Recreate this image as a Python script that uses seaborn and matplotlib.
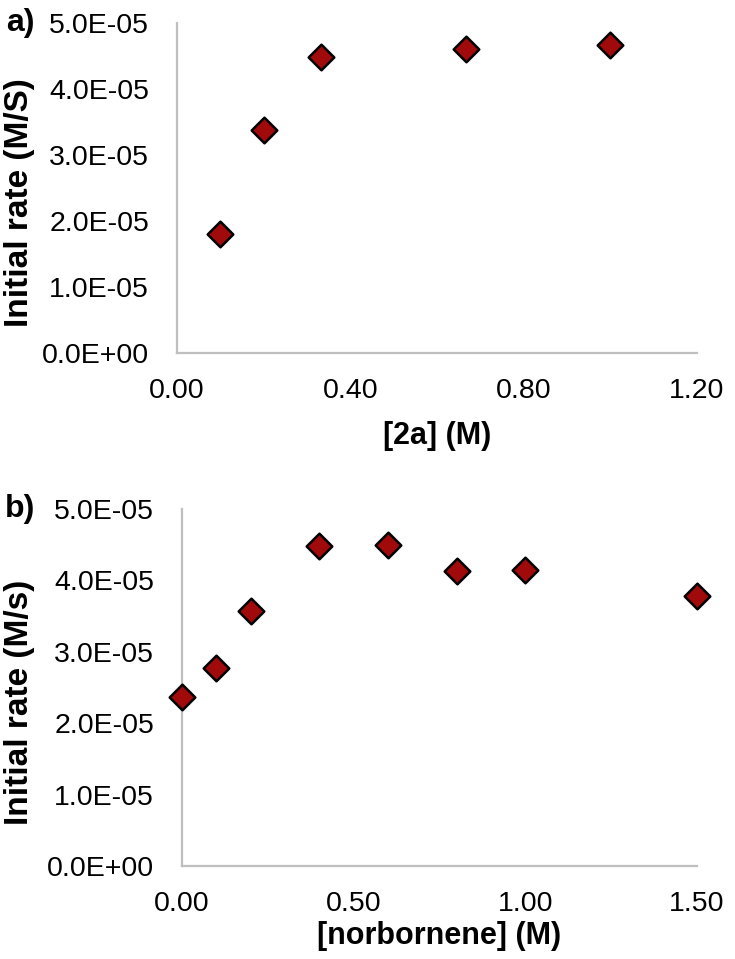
import seaborn as sns
import matplotlib.pyplot as plt
import pandas as pd

# panel a: rate vs [2a]
conc_2a = [0.10, 0.20, 0.333, 0.667, 1.00]
rate_2a = [1.80e-05, 3.38e-05, 4.49e-05, 4.60e-05, 4.66e-05]

# panel b: rate vs [norbornene]
conc_nbe = [0.00, 0.10, 0.20, 0.40, 0.60, 0.80, 1.00, 1.50]
rate_nbe = [2.36e-05, 2.77e-05, 3.57e-05, 4.48e-05, 4.50e-05, 4.13e-05, 4.15e-05, 3.78e-05]

x_ticks_a = [0.00, 0.40, 0.80, 1.20]
x_ticks_b = [0.00, 0.50, 1.00, 1.50]
y_ticks = [0, 1e-05, 2e-05, 3e-05, 4e-05, 5e-05]
y_tick_labels = ["0.0E+00", "1.0E-05", "2.0E-05", "3.0E-05", "4.0E-05", "5.0E-05"]

sns.set_style("white")
plt.rcParams['font.family'] = ['Liberation Sans', 'DejaVu Sans']
plt.rcParams['text.color'] = 'black'
plt.rcParams['axes.labelcolor'] = 'black'

MARKER_COLOR = "#a00a0a"
AXIS_GRAY = "#bfbfbf"

fig = plt.figure(figsize=(7.35, 9.59), dpi=100)
ax_a = fig.add_axes([0.2408, 0.6319, 0.7075, 0.3441])
ax_b = fig.add_axes([0.2476, 0.0970, 0.7007, 0.3723])

# axes, x, y, xticks, xlim, xlabel, ylabel, tag, ylabel/tag x, xlabel pad
panels = [
    (ax_a, conc_2a, rate_2a, x_ticks_a, (0, 1.2), "[2a] (M)", "Initial rate (M/S)", "a)", -0.273, 12),
    (ax_b, conc_nbe, rate_nbe, x_ticks_b, (0, 1.5), "[norbornene] (M)", "Initial rate (M/s)", "b)", -0.285, 3),
]

for ax, xs, ys, xt, xlim, xlab, ylab, tag, left_x, xpad in panels:
    df = pd.DataFrame({"x": xs, "y": ys})
    sns.scatterplot(data=df, x="x", y="y", ax=ax, marker="D", s=170,
                    color=MARKER_COLOR, edgecolor="black", linewidth=1.8,
                    clip_on=False, zorder=3)
    ax.set_xlim(*xlim)
    ax.set_ylim(0, 5e-05)
    ax.set_xticks(xt)
    ax.set_xticklabels([f"{v:.2f}" for v in xt])
    ax.set_yticks(y_ticks)
    ax.set_yticklabels(y_tick_labels)
    for side in ["top", "right"]:
        ax.spines[side].set_visible(False)
    for side in ["left", "bottom"]:
        ax.spines[side].set_color(AXIS_GRAY)
        ax.spines[side].set_linewidth(1.6)
    ax.tick_params(axis="both", direction="out", length=5, width=1.6,
                   color=AXIS_GRAY, labelsize=20.5, labelcolor="black")
    ax.tick_params(axis="y", pad=15)
    ax.tick_params(axis="x", pad=13)
    ax.set_xlabel(xlab, fontsize=22, fontweight="bold", labelpad=xpad, color="black")
    ax.set_ylabel(ylab, fontsize=24, fontweight="bold", color="black")
    ax.yaxis.set_label_coords(left_x, 0.457)
    ax.text(left_x, 1.0, tag, transform=ax.transAxes, fontsize=23,
            fontweight="bold", ha="right", va="center", color="black")

fig.savefig("out.png", dpi=100)
